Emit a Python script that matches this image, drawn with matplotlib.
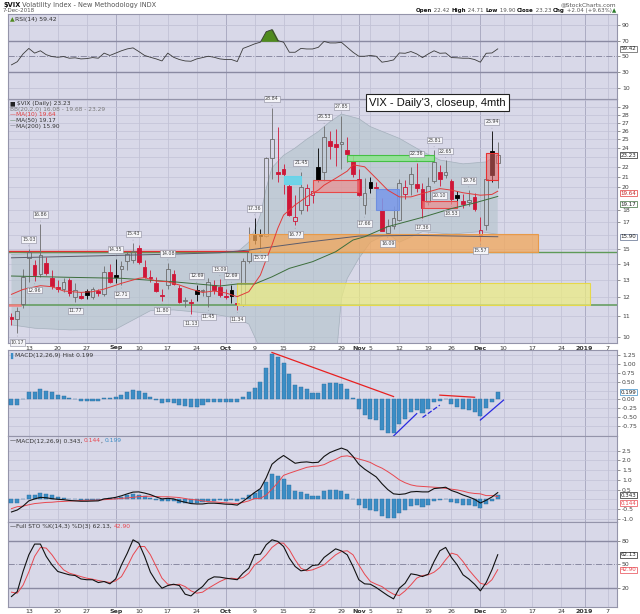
import numpy as np
import pandas as pd
import matplotlib
matplotlib.use("Agg")
import matplotlib.pyplot as plt
from matplotlib.patches import Rectangle
from matplotlib.ticker import NullLocator

plt.rcParams['font.family'] = ['DejaVu Sans']

W, H = 640, 614

# ---------------- data ----------------
holidays = ['2018-09-03', '2018-11-22', '2018-12-05', '2018-12-25', '2019-01-01']
days = pd.bdate_range('2018-08-08', '2019-01-11', freq='C', holidays=holidays)
pos = {d.strftime('%Y-%m-%d'): i for i, d in enumerate(days)}
n = 85  # Aug 8 .. Dec 7 2018

prev_close = 10.93
opens = [10.96, 10.85, 11.62,
         14.40, 13.95, 13.40, 14.10, 13.10,
         12.55, 12.45, 13.00, 12.00, 12.10,
         12.35, 12.00, 12.35, 12.20, 13.50,
         13.30, 13.70, 14.20, 14.30,
         15.10, 13.80, 13.20, 12.80, 12.15,
         12.70, 13.40, 12.55, 11.78, 11.75,
         12.40, 12.35, 12.10, 12.70, 12.60,
         12.10, 12.40, 11.70, 11.60, 14.20,
         16.00, 16.10, 15.95, 22.96, 21.50,
         21.80, 20.10, 17.10, 18.00, 18.40,
         19.30, 22.00, 21.50, 24.80, 24.50,
         24.50, 23.80, 22.60, 20.80, 18.40,
         20.50, 19.95, 18.00, 16.20, 16.70,
         17.20, 19.35, 20.30, 20.30, 19.80,
         18.70, 20.60, 21.50, 21.20,
         20.60, 19.30, 18.80, 18.70, 19.10,
         16.00, 16.80, 23.70, 22.42]
highs = [11.14, 11.50, 13.70,
         15.03, 14.30, 16.86, 14.45, 13.60,
         13.00, 13.10, 13.10, 12.80, 12.30,
         12.45, 12.60, 12.50, 13.90, 14.00,
         14.35, 14.20, 14.90, 15.43,
         15.30, 14.30, 13.60, 13.20, 12.50,
         14.08, 13.60, 12.70, 12.00, 11.90,
         12.69, 12.50, 13.10, 13.00, 13.09,
         12.50, 12.69, 12.10, 14.40, 16.60,
         17.36, 16.50, 23.00, 28.84, 26.40,
         22.30, 20.30, 19.30, 21.45, 20.30,
         20.40, 24.00, 26.53, 26.00, 26.20,
         27.85, 25.30, 23.20, 21.80, 20.90,
         21.00, 20.50, 19.00, 17.30, 18.30,
         20.80, 20.70, 22.00, 22.36, 20.40,
         21.00, 23.81, 22.20, 22.65,
         20.80, 19.70, 19.40, 19.76, 19.50,
         17.40, 21.50, 25.94, 24.71]
lows = [10.56, 10.17, 11.40,
        12.90, 12.96, 13.20, 13.30, 12.50,
        12.30, 12.30, 12.10, 11.77, 11.90,
        11.90, 11.90, 12.10, 12.10, 12.80,
        12.80, 12.71, 13.60, 14.10,
        14.00, 13.10, 12.90, 12.30, 11.80,
        12.50, 12.70, 11.70, 11.50, 11.13,
        11.80, 12.10, 11.45, 12.20, 12.00,
        11.90, 11.70, 11.34, 11.55, 14.10,
        15.40, 15.07, 15.90, 20.80, 20.50,
        19.40, 17.50, 16.77, 17.70, 17.90,
        18.60, 20.50, 20.60, 22.80, 22.10,
        21.80, 22.50, 21.00, 19.20, 17.66,
        19.50, 19.40, 16.30, 16.09, 16.50,
        17.10, 18.90, 19.30, 19.60, 17.36,
        18.40, 20.40, 20.10, 20.90,
        18.53, 18.40, 18.20, 18.30, 17.90,
        15.57, 16.40, 20.50, 19.90]
closes = [10.85, 11.27, 13.16,
          14.78, 13.31, 14.64, 13.45, 12.64,
          12.49, 12.86, 12.25, 12.41, 11.99,
          12.16, 12.50, 12.25, 13.53, 12.86,
          13.16, 13.91, 14.65, 14.88,
          14.16, 13.22, 13.14, 12.37, 12.07,
          13.68, 12.79, 11.75, 11.80, 11.68,
          12.20, 12.42, 12.89, 12.41, 12.12,
          12.00, 12.05, 11.61, 14.22, 14.82,
          15.69, 15.95, 22.96, 24.98, 21.31,
          21.30, 17.62, 17.40, 20.06, 19.89,
          19.64, 20.71, 25.23, 24.22, 24.16,
          24.70, 23.35, 21.23, 19.34, 19.51,
          19.96, 19.91, 16.36, 16.72, 17.36,
          20.45, 20.02, 21.25, 19.98, 18.14,
          20.10, 22.48, 20.80, 21.52,
          18.90, 19.02, 18.49, 18.79, 18.07,
          16.44, 20.74, 21.19, 23.23]

hi_label_dates = ['2018-08-13', '2018-08-15', '2018-09-04', '2018-09-07', '2018-09-17',
                  '2018-09-24', '2018-09-28', '2018-10-02', '2018-10-08', '2018-10-11',
                  '2018-10-18', '2018-10-24', '2018-10-29', '2018-11-15', '2018-11-20',
                  '2018-11-23', '2018-11-29', '2018-12-06']
lo_label_dates = ['2018-08-09', '2018-08-14', '2018-08-23', '2018-09-05', '2018-09-14',
                  '2018-09-21', '2018-09-26', '2018-10-03', '2018-10-09', '2018-10-17',
                  '2018-11-02', '2018-11-08', '2018-11-16', '2018-11-21', '2018-11-26',
                  '2018-12-03']

ma10_dates = ['2018-08-08', '2018-08-10', '2018-08-15', '2018-08-17', '2018-08-21', '2018-08-24',
              '2018-08-28', '2018-08-30', '2018-09-05', '2018-09-10', '2018-09-11', '2018-09-13',
              '2018-09-17', '2018-09-19', '2018-09-21', '2018-09-25', '2018-09-27', '2018-10-01',
              '2018-10-03', '2018-10-05', '2018-10-09', '2018-10-10', '2018-10-11', '2018-10-12',
              '2018-10-15', '2018-10-17', '2018-10-19', '2018-10-23', '2018-10-24', '2018-10-26',
              '2018-10-30', '2018-10-31', '2018-11-02', '2018-11-06', '2018-11-08', '2018-11-12',
              '2018-11-14', '2018-11-16', '2018-11-21', '2018-11-26', '2018-11-28', '2018-12-03',
              '2018-12-06', '2018-12-07']
ma10_vals = [12.17, 12.45, 12.67, 12.61, 12.36, 12.28, 12.32, 12.47, 12.81, 13.11,
             13.15, 12.95, 12.90, 12.71, 12.47, 12.28, 12.36, 12.25, 12.04, 12.32,
             13.31, 14.30, 15.30, 16.53, 17.58, 18.43, 19.13, 19.74, 20.20, 20.85,
             21.56, 22.20, 22.00, 20.85, 19.74, 19.13, 19.13, 19.43, 19.88, 19.74,
             19.50, 19.28, 19.35, 19.64]
ma50_dates = ['2018-08-08', '2018-08-22', '2018-09-05', '2018-09-18', '2018-09-28', '2018-10-03',
              '2018-10-08', '2018-10-11', '2018-10-16', '2018-10-22', '2018-10-26', '2018-10-31',
              '2018-11-02', '2018-11-08', '2018-11-16', '2018-11-26', '2018-11-30', '2018-12-07']
ma50_vals = [13.25, 13.17, 13.11, 12.90, 12.65, 12.77, 12.77, 13.20, 13.73, 14.16, 14.83, 15.66,
             15.90, 16.66, 17.40, 18.12, 18.60, 19.17]
ma200_dates = ['2018-08-08', '2018-08-30', '2018-09-18', '2018-09-28', '2018-10-05', '2018-10-19',
               '2018-11-01', '2018-11-15', '2018-12-07']
ma200_vals = [14.42, 14.56, 14.67, 14.76, 14.95, 15.50, 15.95, 16.00, 15.90]

bb_up_dates = ['2018-08-08', '2018-08-17', '2018-09-04', '2018-09-20', '2018-10-03', '2018-10-05',
               '2018-10-08', '2018-10-09', '2018-10-10', '2018-10-11', '2018-10-15', '2018-10-17',
               '2018-10-19', '2018-10-23', '2018-10-25', '2018-10-29', '2018-11-01', '2018-11-05',
               '2018-11-12', '2018-11-16', '2018-11-21', '2018-11-28', '2018-12-04', '2018-12-07']
bb_up_vals = [14.65, 14.75, 14.70, 14.80, 14.80, 15.50, 16.40, 17.60, 19.90, 21.90, 23.20, 24.00,
              25.00, 25.90, 27.10, 28.10, 27.50, 26.50, 25.10, 23.60, 22.70, 22.30, 22.50, 23.29]
bb_lo_dates = ['2018-08-08', '2018-08-14', '2018-08-22', '2018-09-04', '2018-09-12', '2018-09-18',
               '2018-09-26', '2018-10-03', '2018-10-05', '2018-10-08', '2018-10-09', '2018-10-15',
               '2018-10-26', '2018-10-29', '2018-10-30', '2018-11-01', '2018-11-05', '2018-11-08',
               '2018-11-12', '2018-11-16', '2018-11-26', '2018-12-03', '2018-12-07']
bb_lo_vals = [10.56, 10.40, 10.32, 10.35, 11.28, 11.32, 11.15, 10.89, 10.60, 10.00, 9.40, 8.80,
              8.80, 11.95, 13.10, 14.38, 15.50, 16.15, 15.50, 16.28, 16.10, 16.28, 16.08]

# user drawn zones: start, end, low, high
zone_start = ['2018-10-03', '2018-10-05', '2018-10-15', '2018-10-22', '2018-10-30',
              '2018-11-06', '2018-11-16', '2018-12-04']
zone_end = ['2019-01-02', '2018-12-18', '2018-10-18', '2018-11-01', '2018-11-20',
            '2018-11-12', '2018-11-27', '2018-12-07']
zone_low = [11.58, 14.80, 20.30, 19.60, 22.60, 18.00, 18.15, 20.70]
zone_high = [12.80, 16.10, 21.10, 20.70, 23.20, 19.80, 18.75, 23.50]
support_levels = [14.80, 11.58]
red_level = 14.85
red_level_end = '2018-10-05'

rsi = [39, 43, 53, 60, 54, 57, 52, 49.6, 48.7, 49.6,
       47.5, 48, 46.6, 47, 48.3, 47.5, 54, 51, 54, 57,
       59.4, 60.7, 56, 51, 48.7, 46.6, 44, 54, 48.7, 45.8,
       44, 43.6, 46.6, 48.3, 50, 48.7, 46.6, 45.8, 45.8, 43.2,
       60, 62.8, 65.8, 68, 81.4, 84, 70, 68, 55.1, 55.1,
       60, 59.3, 59.3, 61.4, 69, 67, 67, 67.8, 61.4, 55.1,
       50, 50, 51, 50, 42.4, 43.6, 45.3, 54.2, 53.8, 56,
       53, 48.3, 53, 57, 53.8, 54.2, 48.3, 48, 47.5, 47.5,
       45.8, 42.4, 53.8, 54.2, 59.42]

hist = [-0.17, -0.17, 0.0, 0.20, 0.22, 0.30, 0.25, 0.20, 0.12, 0.09,
        0.03, 0.0, -0.05, -0.05, -0.04, -0.05, 0.03, 0.05, 0.08, 0.12,
        0.22, 0.27, 0.23, 0.17, 0.07, -0.02, -0.11, -0.08, -0.09, -0.17,
        -0.19, -0.21, -0.21, -0.16, -0.07, -0.07, -0.06, -0.07, -0.06, -0.08,
        0.06, 0.20, 0.31, 0.50, 0.88, 1.28, 1.20, 1.02, 0.71, 0.41,
        0.36, 0.28, 0.19, 0.19, 0.42, 0.47, 0.47, 0.43, 0.29, 0.04,
        -0.27, -0.44, -0.54, -0.58, -0.85, -0.94, -0.94, -0.68, -0.54, -0.35,
        -0.30, -0.38, -0.28, -0.07, -0.04, 0.02, -0.13, -0.21, -0.28, -0.30,
        -0.35, -0.47, -0.24, -0.07, 0.199]
macd = [-0.65, -0.55, -0.35, -0.08, 0.02, 0.10, 0.08, 0.03, 0.00, -0.02,
        -0.06, -0.08, -0.10, -0.10, -0.09, -0.08, 0.02, 0.05, 0.10, 0.18,
        0.28, 0.37, 0.38, 0.32, 0.24, 0.12, 0.02, 0.05, 0.02, -0.08,
        -0.15, -0.22, -0.24, -0.24, -0.20, -0.20, -0.22, -0.25, -0.26, -0.30,
        -0.10, 0.12, 0.35, 0.55, 1.10, 1.80, 2.05, 2.25, 2.05, 1.85,
        1.90, 1.92, 1.88, 1.90, 2.20, 2.40, 2.52, 2.63, 2.52, 2.20,
        1.80, 1.55, 1.35, 1.15, 0.80, 0.50, 0.28, 0.25, 0.28, 0.38,
        0.40, 0.38, 0.38, 0.55, 0.58, 0.62, 0.45, 0.35, 0.22, 0.12,
        0.00, -0.19, -0.05, 0.12, 0.343]
signal = [-0.48, -0.38, -0.35, -0.28, -0.22, -0.19, -0.16, -0.15, -0.12, -0.11,
          -0.09, -0.08, -0.06, -0.05, -0.05, -0.04, -0.02, 0.0, 0.02, 0.05,
          0.07, 0.10, 0.14, 0.15, 0.16, 0.14, 0.13, 0.13, 0.11, 0.09,
          0.04, -0.01, -0.03, -0.08, -0.12, -0.13, -0.16, -0.18, -0.20, -0.22,
          -0.16, -0.08, 0.04, 0.05, 0.22, 0.52, 0.85, 1.23, 1.34, 1.44,
          1.54, 1.64, 1.69, 1.71, 1.78, 1.93, 2.05, 2.20, 2.23, 2.16,
          2.07, 1.99, 1.89, 1.73, 1.60, 1.42, 1.22, 1.00, 0.85, 0.74,
          0.68, 0.66, 0.64, 0.62, 0.60, 0.56, 0.52, 0.48, 0.42, 0.34,
          0.30, 0.28, 0.19, 0.19, 0.144]
sto_k = [8.4, 14.8, 40.6, 62, 75.8, 75.8, 60, 49, 40.6, 38.4,
         36.3, 35.4, 31, 30, 30, 26.4, 27.7, 24.7, 31, 49,
         64, 81.3, 77, 60, 39.7, 27.7, 19.1, 22.5, 24.2, 22.5,
         11.4, 9.2, 15.7, 21.2, 30, 33.7, 33.3, 32, 31, 30,
         38.4, 44.8, 62, 62.9, 74.9, 81.3, 79.2, 72.7, 57.7, 47,
         41.4, 42.7, 48.3, 49.1, 58.6, 64.2, 69.7, 67, 62, 47,
         30, 24.7, 24.2, 20, 14.8, 9.7, 5.4, 19.1, 25.5, 37.6,
         36.3, 34.1, 37.1, 53.4, 67.2, 71.5, 58.6, 49, 36.3, 31,
         24.2, 15.7, 26.4, 42.7, 62.13]
sto_d = [14, 12.7, 23, 40, 60, 71.5, 70.6, 62, 51.3, 42.7,
         38.4, 36.3, 34, 32, 30.7, 29, 27.7, 26.4, 28.5, 34,
         47, 62, 72.7, 72.7, 62, 47, 32, 24.2, 23.4, 24.2,
         21.2, 15.7, 12.7, 14, 19, 23.4, 27.7, 31, 32, 31,
         32.8, 38.4, 49, 54.3, 62, 71.5, 77, 77, 68.5, 55.6,
         44.8, 41.4, 42.7, 45.7, 49, 55.6, 62, 66.3, 67.2, 62,
         49, 37.1, 27.7, 24.2, 21.2, 15.7, 11.4, 9.7, 15.7, 23.4,
         32, 35.4, 36.3, 39.7, 45.7, 55.6, 64.2, 62, 53.4, 42.7,
         34, 25.5, 23.4, 30, 42.90]

# trend lines drawn on the histogram: start date, start value, end date, end value
hl_start = ['2018-10-11', '2018-11-09', '2018-11-16', '2018-11-21', '2018-12-03']
hl_v0 = [1.32, -1.03, -0.51, 0.12, -0.58]
hl_end = ['2018-11-09', '2018-11-15', '2018-11-21', '2018-11-30', '2018-12-10']
hl_v1 = [0.08, -0.40, -0.16, 0.06, -0.02]

tick_dates = ['2018-08-13', '2018-08-20', '2018-08-27', '2018-09-04', '2018-09-10', '2018-09-17',
              '2018-09-24', '2018-10-01', '2018-10-08', '2018-10-15', '2018-10-22', '2018-10-29',
              '2018-11-01', '2018-11-05', '2018-11-12', '2018-11-19', '2018-11-26', '2018-12-03',
              '2018-12-10', '2018-12-17', '2018-12-24', '2018-12-31', '2019-01-07']
tick_labels = ['13', '20', '27', 'Sep', '10', '17', '24', 'Oct', '9', '15', '22', '29', 'Nov',
               '5', '12', '19', '26', 'Dec', '10', '17', '24', '2019', '7']
months = ['Sep', 'Oct', 'Nov', 'Dec', '2019']

# ---------------- styling ----------------
BG = '#d8d8e8'
RED = '#cf1637'
LRED = '#e8474f'
HBLUE = '#3c8dc5'
GRID = '#c2c2d6'
MGRID = '#a4a4bc'
TXT = '#444444'

fig = plt.figure(figsize=(W / 100, H / 100), dpi=100)
fig.patch.set_facecolor('white')
x = np.arange(n)
tpos = [pos[d] for d in tick_dates]


def P(ds):
    return [pos[d] for d in ds]


def panel(top, bottom):
    ax = fig.add_axes([8 / W, 1 - bottom / H, 609 / W, (bottom - top) / H])
    ax.set_facecolor(BG)
    ax.set_xlim(-0.6, 104.6)
    ax.yaxis.tick_right()
    ax.tick_params(axis='y', labelsize=4.4, length=2, width=0.5, colors='#666',
                   labelcolor=TXT, pad=1.5)
    ax.tick_params(axis='x', length=0, labelsize=4.5, labelcolor='#333', pad=1.8)
    for s in ax.spines.values():
        s.set_color('#9494aa')
        s.set_linewidth(0.8)
    for t, lab in zip(tpos, tick_labels):
        ax.axvline(t, color=MGRID if lab in months else GRID, lw=0.6, zorder=0.5)
    ax.set_xticks(tpos)
    ax.set_xticklabels([])
    return ax


def date_labels(ax):
    ax.set_xticklabels(tick_labels)
    for t in ax.get_xticklabels():
        if t.get_text() in months:
            t.set_fontweight('bold')


def vbox(ax, y, txt, ec, tc='#222', dy=0):
    ax.annotate(txt, xy=(1, y), xycoords=('axes fraction', 'data'), xytext=(2.5, dy),
                textcoords='offset points', fontsize=4.0, color=tc, va='center', ha='left',
                bbox=dict(boxstyle='square,pad=0.1', fc='white', ec=ec, lw=0.5),
                annotation_clip=False, zorder=10)


def run(px, py, parts, size=4.3, align='left'):
    r = fig.canvas.get_renderer()
    texts = []
    for s, bold, col in parts:
        t = fig.text(0, 1 - py / H, s, fontsize=size, color=col,
                     fontweight='bold' if bold else 'normal', va='center', ha='left')
        texts.append((t, t.get_window_extent(r).width))
    total = sum(w for _, w in texts)
    cx = px - total if align == 'right' else px
    for t, w in texts:
        t.set_x(cx / W)
        cx += w


# ---------------- header ----------------
run(3, 4.5, [('$VIX', True, '#111'), (' Volatility Index - New Methodology INDX', False, '#555')], 4.8)
run(3, 10.5, [('7-Dec-2018', False, '#555')], 4.0)
run(616, 4.5, [('@StockCharts.com', False, '#555')], 4.2, 'right')
run(616, 10.5, [('Open', True, '#111'), (' 22.42 ', False, '#555'), ('High', True, '#111'),
                (' 24.71 ', False, '#555'), ('Low', True, '#111'), (' 19.90 ', False, '#555'),
                ('Close', True, '#111'), (' 23.23 ', False, '#555'), ('Chg', True, '#111'),
                (' +2.04 (+9.63%)', False, '#555'), ('\u25b2', False, '#2a7a2a')], 4.0, 'right')

# ---------------- RSI ----------------
ax_r = panel(14, 98.5)
ax_r.set_ylim(-4, 104)
for lv in (90, 10):
    ax_r.axhline(lv, color=GRID, lw=0.6, zorder=0.5)
for lv in (70, 30):
    ax_r.axhline(lv, color='#8a8aa2', lw=1.0, zorder=1)
ax_r.axhline(50, color='#8a8aa2', lw=0.7, ls='-.', zorder=1)
rsi_a = np.array(rsi)
ax_r.fill_between(x, rsi_a, 70, where=rsi_a >= 70, interpolate=True, color='#4f8a1e', zorder=2)
ax_r.plot(x, rsi_a, color='#3a3a3a', lw=0.6, zorder=3)
ax_r.set_yticks([10, 30, 50, 70, 90])
vbox(ax_r, 59.42, '59.42', '#555')
run(10, 19.5, [('\u25b2', False, '#4f8a1e'), ('RSI(14) 59.42', False, '#333')], 4.4)

# ---------------- price ----------------
ax_p = panel(98.5, 343)
ax_p.set_yscale('log')
ax_p.set_ylim(9.71, 30.2)
for lv in range(10, 31):
    ax_p.axhline(lv, color=GRID, lw=0.5, zorder=0.5)
show = [v for v in range(10, 30) if v not in (16, 19, 23)]
ax_p.set_yticks(show)
ax_p.set_yticklabels([str(v) for v in show])
ax_p.yaxis.set_minor_locator(NullLocator())

# Bollinger band
bx = P(bb_up_dates) + P(bb_lo_dates)[::-1]
by = bb_up_vals + bb_lo_vals[::-1]
ax_p.fill(bx, by, fc='#b4c4cc', alpha=0.62, ec='none', zorder=1)
ax_p.plot(P(bb_up_dates), bb_up_vals, color='#a4b0bc', lw=0.5, zorder=1.2)
ax_p.plot(P(bb_lo_dates), bb_lo_vals, color='#a4b0bc', lw=0.5, zorder=1.2)

# horizontal levels
ax_p.axhline(support_levels[0], color='#5e9a58', lw=1.0, zorder=2)
ax_p.axhline(support_levels[1], color='#5e9a58', lw=1.1, zorder=2)
ax_p.plot([-0.6, pos[red_level_end]], [red_level, red_level], color='#e03030', lw=1.0, zorder=2.2)
ax_p.plot([-0.6, 1.5], [support_levels[1], support_levels[1]], color='#ee7f7f', lw=1.8, zorder=2.2)

# candles
prev = [prev_close] + closes[:-1]
for i in range(n):
    o, h, l, c = opens[i], highs[i], lows[i], closes[i]
    up = c > o
    col = RED if c < prev[i] else ('#6c6c6c' if up else '#000000')
    b0, b1 = min(o, c), max(o, c)
    if b1 / b0 < 1.006:
        b1 = b0 * 1.006
    ax_p.vlines(i, b1, h, color=col, lw=0.6, zorder=3)
    ax_p.vlines(i, l, b0, color=col, lw=0.6, zorder=3)
    ax_p.add_patch(Rectangle((i - 0.32, b0), 0.64, b1 - b0, fc='none' if up else col,
                             ec=col, lw=0.6, zorder=3.1))

# zones
zone_fc = ['#ecec80', '#f2a658', '#66d4ea', '#ee8a8a', '#8ee68e', '#7898ea', '#ee8a8a', '#ee6a6a']
zone_ec = ['#e6d84a', '#e89a48', '#66d4ea', '#e84848', '#44c044', '#6f8fe0', '#e84848', '#e83030']
zone_al = [0.72, 0.74, 0.9, 0.65, 0.85, 0.85, 0.65, 0.55]
for s, e, lo, hi, fc, ec, al in zip(zone_start, zone_end, zone_low, zone_high,
                                     zone_fc, zone_ec, zone_al):
    ax_p.add_patch(Rectangle((pos[s], lo), pos[e] - pos[s], hi - lo, fc=fc, alpha=al,
                             ec='none', zorder=4))
    ax_p.add_patch(Rectangle((pos[s], lo), pos[e] - pos[s], hi - lo, fc='none',
                             ec=ec, lw=0.8, zorder=4.1))

# moving averages
ax_p.plot(P(ma200_dates), ma200_vals, color='#5c5c6c', lw=0.7, zorder=5)
ax_p.plot(P(ma50_dates), ma50_vals, color='#3c6e3c', lw=0.7, zorder=5)
ax_p.plot(P(ma10_dates), ma10_vals, color='#e23a3a', lw=0.7, zorder=5)

# high / low tags
lab_kw = dict(textcoords='offset points', fontsize=3.4, color='#444', ha='center',
              bbox=dict(boxstyle='square,pad=0.15', fc='#f4f4f8', ec='#8a8a9a', lw=0.4),
              arrowprops=dict(arrowstyle='-', color='#8a8a9a', lw=0.4), zorder=6)
for d in hi_label_dates:
    i = pos[d]
    ax_p.annotate('%.2f' % highs[i], xy=(i, highs[i]), xytext=(0, 5), va='bottom', **lab_kw)
for d in lo_label_dates:
    i = pos[d]
    ax_p.annotate('%.2f' % lows[i], xy=(i, lows[i]), xytext=(0, -5), va='top', **lab_kw)

vbox(ax_p, 23.23, '23.23', '#222')
vbox(ax_p, 19.64, '19.64', '#e23a3a', '#c02020', dy=-1.5)
vbox(ax_p, 19.17, '19.17', '#3c6e3c', dy=-5.5)
vbox(ax_p, 15.90, '15.90', '#5c6c8c')
date_labels(ax_p)

run(10, 103.5, [('\u25a0 ', False, '#222'), ('$VIX (Daily) 23.23', False, '#333')], 4.2)
run(10, 109.2, [('BB(20,2.0) 16.08 - 19.68 - 23.29', False, '#7a7a7a')], 4.2)
run(10, 114.9, [('\u2014', False, '#e23a3a'), ('MA(10) 19.64', False, '#e23a3a')], 4.2)
run(10, 120.6, [('\u2014', False, '#3c6e3c'), ('MA(50) 19.17', False, '#333')], 4.2)
run(10, 126.3, [('\u2014', False, '#5c5c6c'), ('MA(200) 15.90', False, '#333')], 4.2)

fig.text(437.5 / W, 1 - 102.8 / H, "VIX - Daily'3, closeup, 4mth", fontsize=8,
         family='Liberation Sans', ha='center', va='center', color='#111', zorder=20,
         bbox=dict(boxstyle='square,pad=0.3', fc='white', ec='#222', lw=0.8))

# ---------------- MACD histogram ----------------
ax_h = panel(350, 436)
ax_h.set_ylim(-1.03, 1.39)
for lv in [1.25, 1.0, 0.75, 0.5, 0.25, 0.0, -0.25, -0.5, -0.75]:
    ax_h.axhline(lv, color=GRID, lw=0.5, zorder=0.5)
ax_h.bar(x, hist, width=0.7, color=HBLUE, edgecolor='#2c6e9e', lw=0.3, zorder=3)
hshow = [1.25, 1.0, 0.75, 0.5, 0.0, -0.25, -0.5, -0.75]
ax_h.set_yticks(hshow)
ax_h.set_yticklabels(['%.2f' % v for v in hshow])
line_col = ['#e82020', '#2a2ae0', '#2a2ae0', '#e82020', '#2a2ae0']
line_ls = ['-', '-', '--', '-', '-']
for s, v0, e, v1, c, ls in zip(hl_start, hl_v0, hl_end, hl_v1, line_col, line_ls):
    ax_h.plot([pos[s], pos[e]], [v0, v1], color=c, lw=0.9, ls=ls, zorder=5)
vbox(ax_h, 0.199, '0.199', HBLUE)
run(10, 355.5, [('\u258c', False, HBLUE), ('MACD(12,26,9) Hist 0.199', False, '#333')], 4.3)

# ---------------- MACD ----------------
ax_m = panel(436, 521.5)
ax_m.set_ylim(-1.14, 3.25)
for lv in [2.5, 2.0, 1.5, 1.0, 0.5, 0.0, -0.5, -1.0]:
    ax_m.axhline(lv, color=GRID, lw=0.5, zorder=0.5)
ax_m.bar(x, hist, width=0.7, color=HBLUE, edgecolor='#2c6e9e', lw=0.3, zorder=3)
ax_m.plot(x, signal, color=LRED, lw=0.7, zorder=4)
ax_m.plot(x, macd, color='#111', lw=0.8, zorder=5)
mshow = [2.5, 2.0, 1.5, 1.0, 0.5, -0.5, -1.0]
ax_m.set_yticks(mshow)
ax_m.set_yticklabels(['%.1f' % v for v in mshow])
vbox(ax_m, 0.343, '0.343', '#222', dy=-2)
vbox(ax_m, 0.144, '0.144', LRED, LRED, dy=-5)
run(10, 441, [('\u2014', False, '#111'), ('MACD(12,26,9) 0.343, ', False, '#333'),
              ('0.144', False, LRED), (', ', False, '#333'), ('0.199', False, HBLUE)], 4.3)

# ---------------- Full stochastics ----------------
ax_s = panel(521.5, 606.5)
ax_s.set_ylim(-4.4, 104.8)
for lv in (80, 20):
    ax_s.axhline(lv, color='#8a8aa2', lw=1.0, zorder=1)
ax_s.axhline(50, color='#8a8aa2', lw=0.7, ls='-.', zorder=1)
ax_s.plot(x, sto_d, color=LRED, lw=0.7, zorder=4)
ax_s.plot(x, sto_k, color='#111', lw=0.8, zorder=5)
ax_s.set_yticks([20, 50, 80])
vbox(ax_s, 62.13, '62.13', '#222')
vbox(ax_s, 42.90, '42.90', LRED, LRED)
date_labels(ax_s)
run(10, 526.5, [('\u2014', False, '#111'), ('Full STO %K(14,3) %D(3) 62.13, ', False, '#333'),
                ('42.90', False, LRED)], 4.3)

fig.savefig('out.png', dpi=100, facecolor='white')
